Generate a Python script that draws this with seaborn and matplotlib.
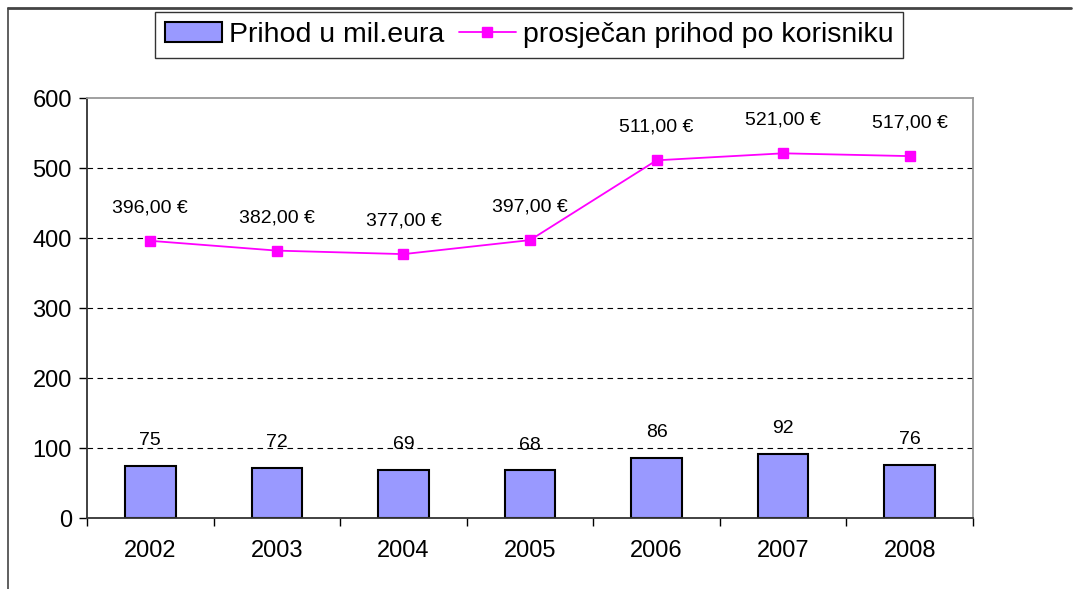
import numpy as np
import pandas as pd
import seaborn as sns
import matplotlib.pyplot as plt
from matplotlib.lines import Line2D
from matplotlib.patches import Patch

years = ['2002', '2003', '2004', '2005', '2006', '2007', '2008']
prihod = [75, 72, 69, 68, 86, 92, 76]
prosjek = [396, 382, 377, 397, 511, 521, 517]

sns.set_style('white')
plt.rcParams['font.family'] = ['Liberation Sans', 'DejaVu Sans']
plt.rcParams['text.color'] = 'black'
plt.rcParams['xtick.color'] = 'black'
plt.rcParams['ytick.color'] = 'black'

df = pd.DataFrame({'godina': years, 'prihod': prihod, 'prosjek': prosjek})

fig = plt.figure(figsize=(10.76, 5.89), dpi=100)
ax = fig.add_axes([0.0809, 0.1205, 0.8234, 0.7131])

sns.barplot(data=df, x='godina', y='prihod', color='#9999ff', saturation=1,
            width=0.4, edgecolor='black', linewidth=1.5, ax=ax)
xpos = np.arange(len(years))
ax.plot(xpos, prosjek, color='#ff00ff', lw=1.3, marker='s', ms=7, zorder=4)

for x, v in zip(xpos, prihod):
    ax.text(x, v + 36, str(v), ha='center', va='center', fontsize=14)
for x, v in zip(xpos, prosjek):
    ax.text(x, v + 47, '{:.2f} €'.format(v).replace('.', ','), ha='center',
            va='center', fontsize=14)

ax.set_ylim(0, 600)
ax.set_xlim(-0.5, len(years) - 0.5)
ax.set_yticks(range(0, 601, 100))
for y in range(100, 501, 100):
    ax.axhline(y, color='black', lw=0.8, ls=(0, (5, 4)), zorder=0)
ax.set_xlabel('')
ax.set_ylabel('')
ax.tick_params(axis='y', labelsize=17, length=6, width=1, direction='out', left=True,
               pad=5, colors='black')
ax.tick_params(axis='x', labelsize=17, length=0, pad=16, colors='black')
ax.set_xticks(np.arange(-0.5, len(years)), minor=True)
ax.tick_params(axis='x', which='minor', length=6, width=1, direction='out', bottom=True)
for s in ['left', 'bottom']:
    ax.spines[s].set_color('#333333')
    ax.spines[s].set_linewidth(1.3)
for s in ['top', 'right']:
    ax.spines[s].set_visible(True)
    ax.spines[s].set_color('#999999')
    ax.spines[s].set_linewidth(1.3)

handles = [Patch(facecolor='#9999ff', edgecolor='black', linewidth=1.5),
           Line2D([0], [0], color='#ff00ff', lw=1.3, marker='s', ms=7)]
leg = fig.legend(handles, ['Prihod u mil.eura', 'prosječan prihod po korisniku'],
                 loc='center', bbox_to_anchor=(0.492, 0.941), ncol=2, fontsize=20.5,
                 frameon=True, fancybox=False, edgecolor='black', handlelength=2.0,
                 columnspacing=0.5, handletextpad=0.25, borderpad=0.35)
leg.get_frame().set_linewidth(1)

# outer frame lines
fig.add_artist(Line2D([0.0075, 0.995], [0.986, 0.986], color='#444444', lw=2,
                      transform=fig.transFigure))
fig.add_artist(Line2D([0.0075, 0.0075], [0.0, 0.986], color='#444444', lw=1.2,
                      transform=fig.transFigure))

fig.savefig('out.png', dpi=100)
